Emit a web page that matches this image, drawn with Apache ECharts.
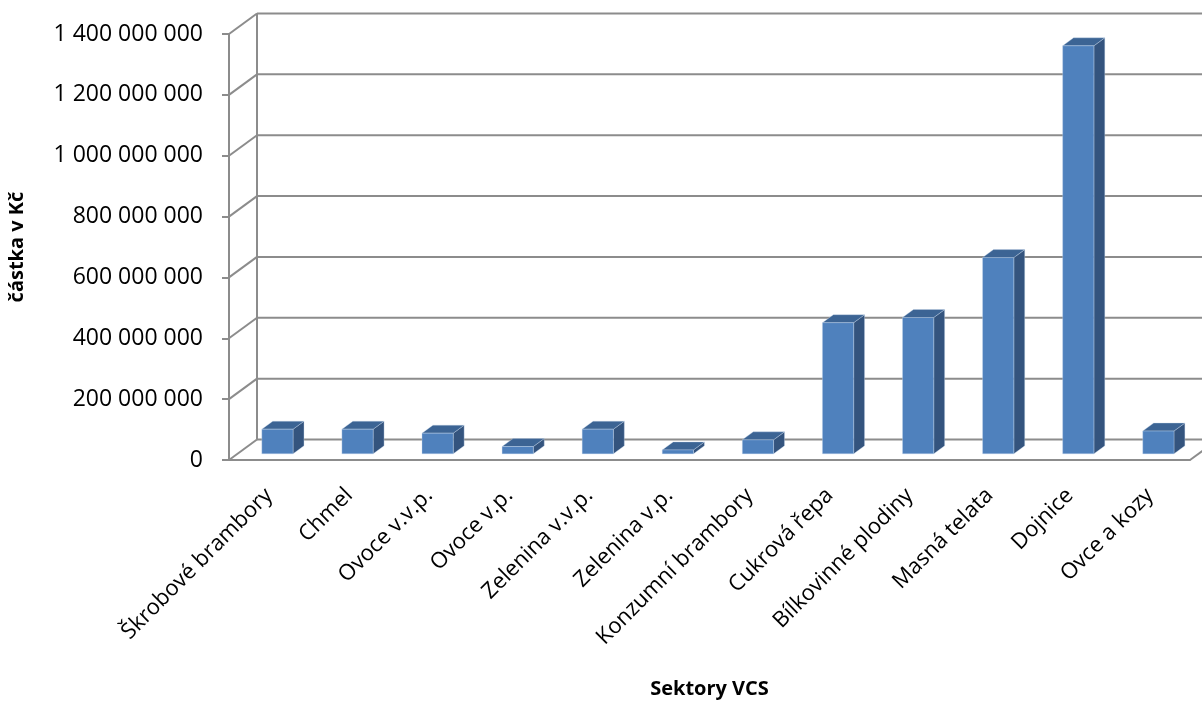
<!DOCTYPE html>
<html>
<head>
<meta charset="utf-8">
<script src="https://cdn.jsdelivr.net/npm/echarts@6/dist/echarts.min.js"></script>
<style>html,body{margin:0;padding:0;background:#fff}#c{width:1202px;height:702px}</style>
</head>
<body>
<div id="c"></div>
<script>
const categories = ['Škrobové brambory','Chmel','Ovoce v.v.p.','Ovoce v.p.','Zelenina v.v.p.','Zelenina v.p.','Konzumní brambory','Cukrová řepa','Bílkovinné plodiny','Masná telata','Dojnice','Ovce a kozy'];
const values = [81e6, 81e6, 68e6, 24e6, 81e6, 13e6, 46e6, 431e6, 448e6, 645e6, 1341e6, 75e6];
const yTicks = [0, 2e8, 4e8, 6e8, 8e8, 1e9, 1.2e9, 1.4e9];

// 3D projection (style constants)
const WALL_DX = 28, WALL_DY = -20.5;
const BAR_POS = 0.30, BAR_DEPTH = 0.39, BAR_W = 0.39;
const LINE = '#8c8c8c';
const FONT = 'Open Sans';

const chart = echarts.init(document.getElementById('c'), null, {renderer: 'canvas'});

function fmt(v){ return String(Math.round(v)).replace(/\B(?=(\d{3})+(?!\d))/g, ' '); }

const option = {
  animation: false,
  grid: {left: 229, right: 12, top: 34, bottom: 242, containLabel: false, outerBoundsMode: 'none'},
  xAxis: {
    type: 'category', data: categories,
    name: 'Sektory VCS', nameLocation: 'middle', nameGap: 219,
    nameTextStyle: {fontFamily: FONT, fontWeight: 'bold', fontSize: 20, color: '#000'},
    axisLine: {show: true, lineStyle: {color: LINE, width: 2}},
    axisTick: {show: false},
    axisLabel: {rotate: 45, margin: 32, fontFamily: FONT, fontSize: 22, color: '#000', interval: 0},
    splitLine: {show: false}
  },
  yAxis: {
    type: 'value', min: 0, max: 1.4e9, interval: 2e8,
    name: 'částka v Kč', nameLocation: 'middle', nameGap: 202,
    nameTextStyle: {fontFamily: FONT, fontWeight: 'bold', fontSize: 20, color: '#000'},
    axisLine: {show: true, lineStyle: {color: LINE, width: 2}},
    axisTick: {show: true, length: 7, lineStyle: {color: LINE, width: 2}},
    axisLabel: {margin: 26, fontFamily: FONT, fontSize: 23, color: '#000', formatter: fmt},
    splitLine: {show: false}
  },
  series: [
    {
      type: 'custom', z: 1, silent: true,
      data: yTicks.map(v => [0, v]),
      encode: {x: 0, y: 1},
      renderItem: function(params, api){
        const v = api.value(1);
        const band = api.size([1, 0])[0];
        const p = api.coord([0, v]);
        const left = p[0] - band / 2;
        const right = api.coord([categories.length - 1, v])[0] + band / 2;
        const y = p[1];
        const style = {stroke: LINE, lineWidth: 2};
        const children = [
          {type: 'line', shape: {x1: left, y1: y, x2: left + WALL_DX, y2: y + WALL_DY}, style: style},
          {type: 'line', shape: {x1: left + WALL_DX, y1: y + WALL_DY, x2: right + WALL_DX, y2: y + WALL_DY}, style: style}
        ];
        if (params.dataIndex === 0) {
          const yTop = api.coord([0, yTicks[yTicks.length - 1]])[1];
          children.push({type: 'line', shape: {x1: left + WALL_DX, y1: y + WALL_DY, x2: left + WALL_DX, y2: yTop + WALL_DY}, style: style});
          children.push({type: 'line', shape: {x1: right, y1: y, x2: right + WALL_DX, y2: y + WALL_DY}, style: style});
        }
        return {type: 'group', children: children};
      }
    },
    {
      type: 'custom', z: 5, silent: true,
      data: values.map((v, i) => [i, v]),
      encode: {x: 0, y: 1},
      renderItem: function(params, api){
        const i = api.value(0), v = api.value(1);
        const band = api.size([1, 0])[0];
        const base = api.coord([i, 0]);
        const top = api.coord([i, v]);
        const ox = WALL_DX * BAR_POS, oy = WALL_DY * BAR_POS;
        const ddx = WALL_DX * BAR_DEPTH, ddy = WALL_DY * BAR_DEPTH;
        const w = band * BAR_W;
        const fl = base[0] + ox - w / 2, fr = fl + w;
        const fb = base[1] + oy, ft = top[1] + oy;
        const edge = {stroke: 'rgba(200,215,235,0.6)', lineWidth: 0.6};
        return {type: 'group', children: [
          {type: 'polygon', shape: {points: [[fr, ft], [fr + ddx, ft + ddy], [fr + ddx, fb + ddy], [fr, fb]]},
            style: Object.assign({fill: '#34547e'}, edge)},
          {type: 'polygon', shape: {points: [[fl, ft], [fr, ft], [fr + ddx, ft + ddy], [fl + ddx, ft + ddy]]},
            style: Object.assign({fill: '#3c6494'}, edge)},
          {type: 'rect', shape: {x: fl, y: ft, width: w, height: fb - ft},
            style: Object.assign({fill: '#4f81bd'}, edge)}
        ]};
      }
    }
  ]
};
chart.setOption(option);
</script>
</body>
</html>
